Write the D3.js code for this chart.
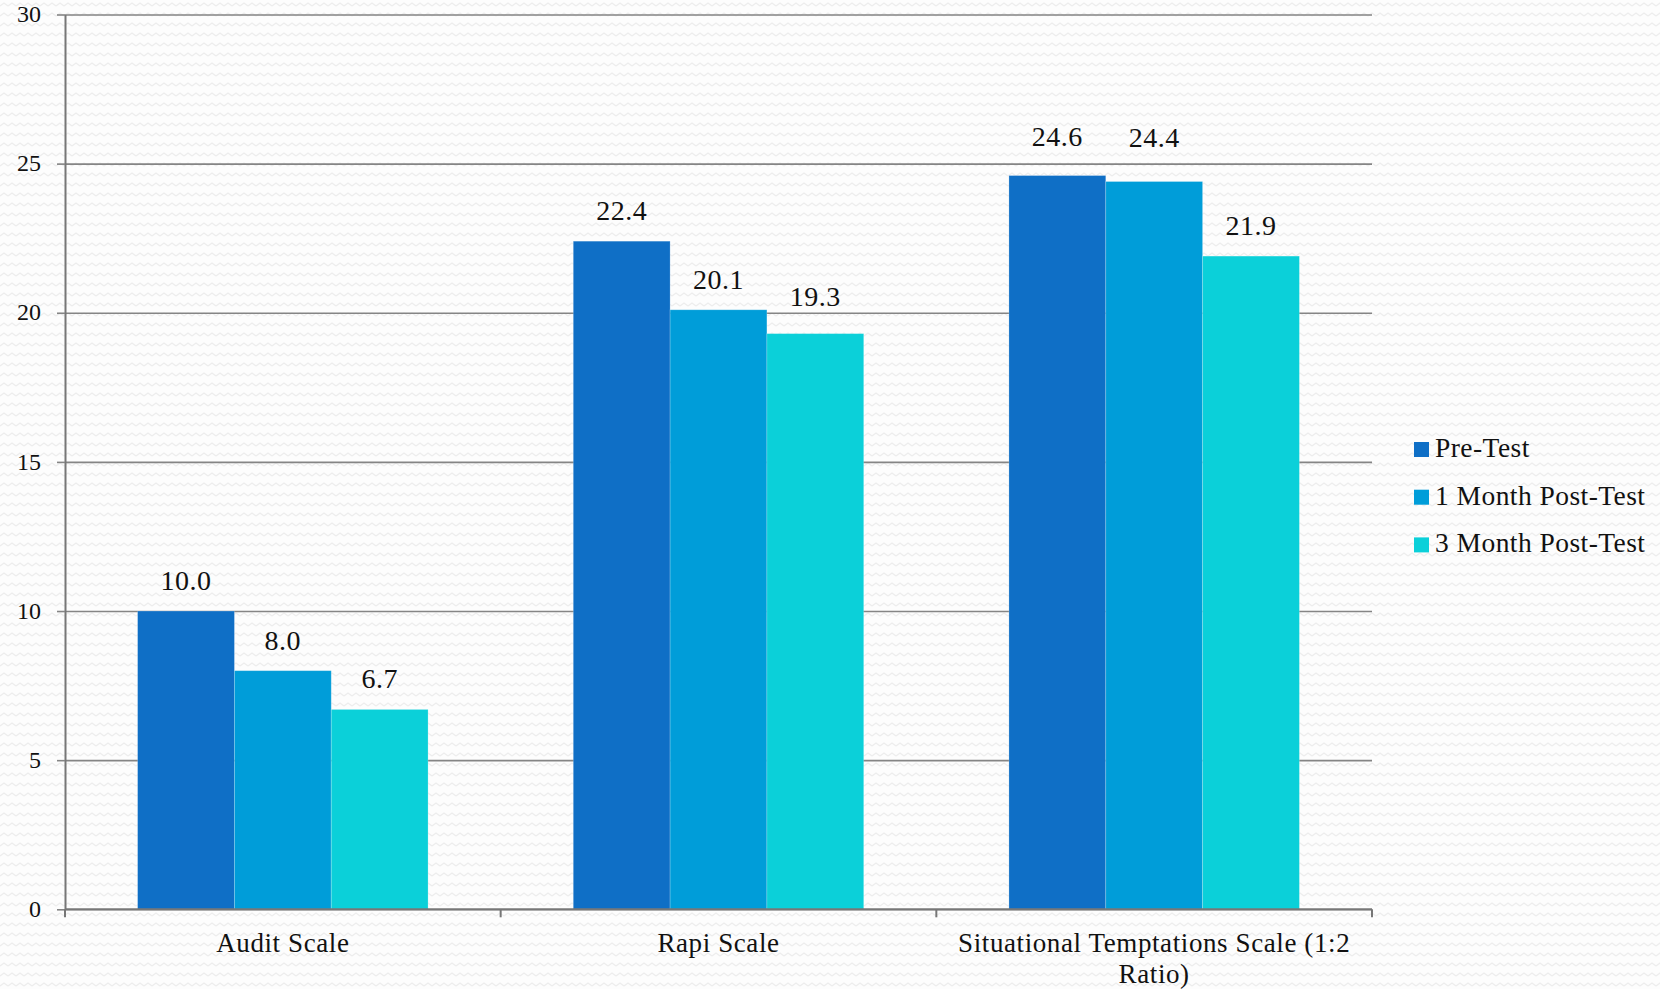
<!DOCTYPE html>
<html>
<head>
<meta charset="utf-8">
<script src="https://cdn.jsdelivr.net/npm/d3@7"></script>
<style>
  html, body { margin: 0; padding: 0; background: #fdfdfd; }
  svg text { font-family: Constantia, "Liberation Serif", serif; fill: #111; }
</style>
</head>
<body>
<div id="chart"></div>
<script>
// chart data
let categories = ["Audit Scale", "Rapi Scale", "Situational Temptations Scale (1:2 Ratio)"];
let categoryLines = [["Audit Scale"], ["Rapi Scale"], ["Situational Temptations Scale (1:2", "Ratio)"]];
let seriesNames = ["Pre-Test", "1 Month Post-Test", "3 Month Post-Test"];
let preTest = [10.0, 22.4, 24.6];
let oneMonth = [8.0, 20.1, 24.4];
let threeMonth = [6.7, 19.3, 21.9];
let yTicks = [0, 5, 10, 15, 20, 25, 30];
let colors = ["#0F6FC6", "#009DD9", "#0BD0D9"];

let seriesValues = [preTest, oneMonth, threeMonth];

// a few labels were nudged up in the original
let labelNudge = {"19.3": -7, "24.6": -9, "24.4": -14};

let W = 1660, H = 989;
let margin = {left: 65, top: 14.5, right: 288, bottom: 79.7};
let plotW = W - margin.left - margin.right;
let plotH = H - margin.top - margin.bottom;

let svg = d3.select('#chart').append('svg')
	.attr('width', W)
	.attr('height', H);

//background texture
let defs = svg.append('defs');
let pat = defs.append('pattern')
	.attr('id', 'waves')
	.attr('patternUnits', 'userSpaceOnUse')
	.attr('width', 8)
	.attr('height', 10);
pat.append('rect').attr('width', 8).attr('height', 10).attr('fill', '#fdfdfd');
pat.append('path')
	.attr('d', 'M0,6 L4,3 L8,6')
	.attr('fill', 'none')
	.attr('stroke', '#ededed')
	.attr('stroke-width', 1.2);
svg.append('rect').attr('width', W).attr('height', H).attr('fill', 'url(#waves)');

let g = svg.append('g').attr('transform', 'translate(' + margin.left + ',' + margin.top + ')');

let x0 = d3.scaleBand().domain(categories).range([0, plotW]).padding(0);
let x1 = d3.scaleBand().domain(seriesNames).range([0, x0.bandwidth()]).paddingInner(0).paddingOuter(0.75);
let y = d3.scaleLinear().domain([0, 30]).range([plotH, 0]);

//gridlines
g.append('g')
	.attr('class', 'grid')
	.call(d3.axisLeft(y).tickValues(yTicks).tickSize(-plotW).tickFormat(''))
	.call(s => s.select('.domain').remove())
	.call(s => s.selectAll('line').attr('stroke', '#858585').attr('stroke-width', 1.6));

//y axis
let yAxis = g.append('g')
	.call(d3.axisLeft(y).tickValues(yTicks).tickSize(8).tickSizeOuter(0).tickPadding(16))
yAxis.select('.domain').attr('stroke', '#777').attr('stroke-width', 2);
yAxis.selectAll('line').attr('stroke', '#858585').attr('stroke-width', 1.6);
yAxis.selectAll('text')
	.style('font-size', '24px')
	.attr('dy', '0.3em');

//bars
let groups = g.selectAll('g.cat')
	.data(categories)
	.join('g')
	.classed('cat', true)
	.attr('transform', d => 'translate(' + x0(d) + ',0)');

groups.selectAll('rect')
	.data((d, i) => seriesNames.map((s, j) => ({series: s, j: j, value: seriesValues[j][i]})))
	.join('rect')
	.attr('x', d => x1(d.series))
	.attr('y', d => y(d.value))
	.attr('width', x1.bandwidth())
	.attr('height', d => plotH - y(d.value))
	.attr('fill', d => colors[d.j])
	.attr('stroke', 'rgba(255,255,255,0.25)')
	.attr('stroke-width', 0.8);

groups.selectAll('text.val')
	.data((d, i) => seriesNames.map((s, j) => ({series: s, j: j, value: seriesValues[j][i]})))
	.join('text')
	.classed('val', true)
	.attr('x', d => x1(d.series) + x1.bandwidth() / 2)
	.attr('y', d => y(d.value) - 21 + (labelNudge[d.value.toFixed(1)] || 0))
	.attr('text-anchor', 'middle')
	.style('font-size', '28px')
	.style('letter-spacing', '0.5px')
	.text(d => d.value.toFixed(1));

//x axis
g.append('line')
	.attr('x1', 0).attr('x2', plotW)
	.attr('y1', plotH).attr('y2', plotH)
	.attr('stroke', '#777')
	.attr('stroke-width', 2);

let bounds = categories.map(c => x0(c)).concat([x0(categories[categories.length - 1]) + x0.bandwidth()]);
g.selectAll('line.xtick')
	.data(bounds)
	.join('line')
	.classed('xtick', true)
	.attr('x1', d => d).attr('x2', d => d)
	.attr('y1', plotH).attr('y2', plotH + 8)
	.attr('stroke', '#777')
	.attr('stroke-width', 2);

let xLabels = g.selectAll('text.xlab')
	.data(categories)
	.join('text')
	.classed('xlab', true)
	.attr('text-anchor', 'middle')
	.style('font-size', '27px')
	.style('letter-spacing', '0.6px')
	.attr('transform', d => 'translate(' + (x0(d) + x0.bandwidth() / 2) + ',' + (plotH + 43) + ')');

xLabels.each((d, i, c) => {
	d3.select(c[i]).selectAll('tspan')
		.data(categoryLines[i])
		.join('tspan')
		.attr('x', 0)
		.attr('dy', (t, k) => k == 0 ? 0 : 31)
		.text(t => t);
});

//legend
let legend = svg.selectAll('g.legendItem')
	.data(seriesNames)
	.join('g')
	.classed('legendItem', true)
	.attr('transform', (d, i) => 'translate(1414,' + (442 + i * 47.7) + ')');

legend.append('rect')
	.attr('width', 15)
	.attr('height', 15)
	.attr('fill', (d, i) => colors[i]);

legend.append('text')
	.attr('x', 21)
	.attr('y', 15)
	.style('font-size', '27.5px')
	.style('letter-spacing', '0.45px')
	.text(d => d);
</script>
</body>
</html>
